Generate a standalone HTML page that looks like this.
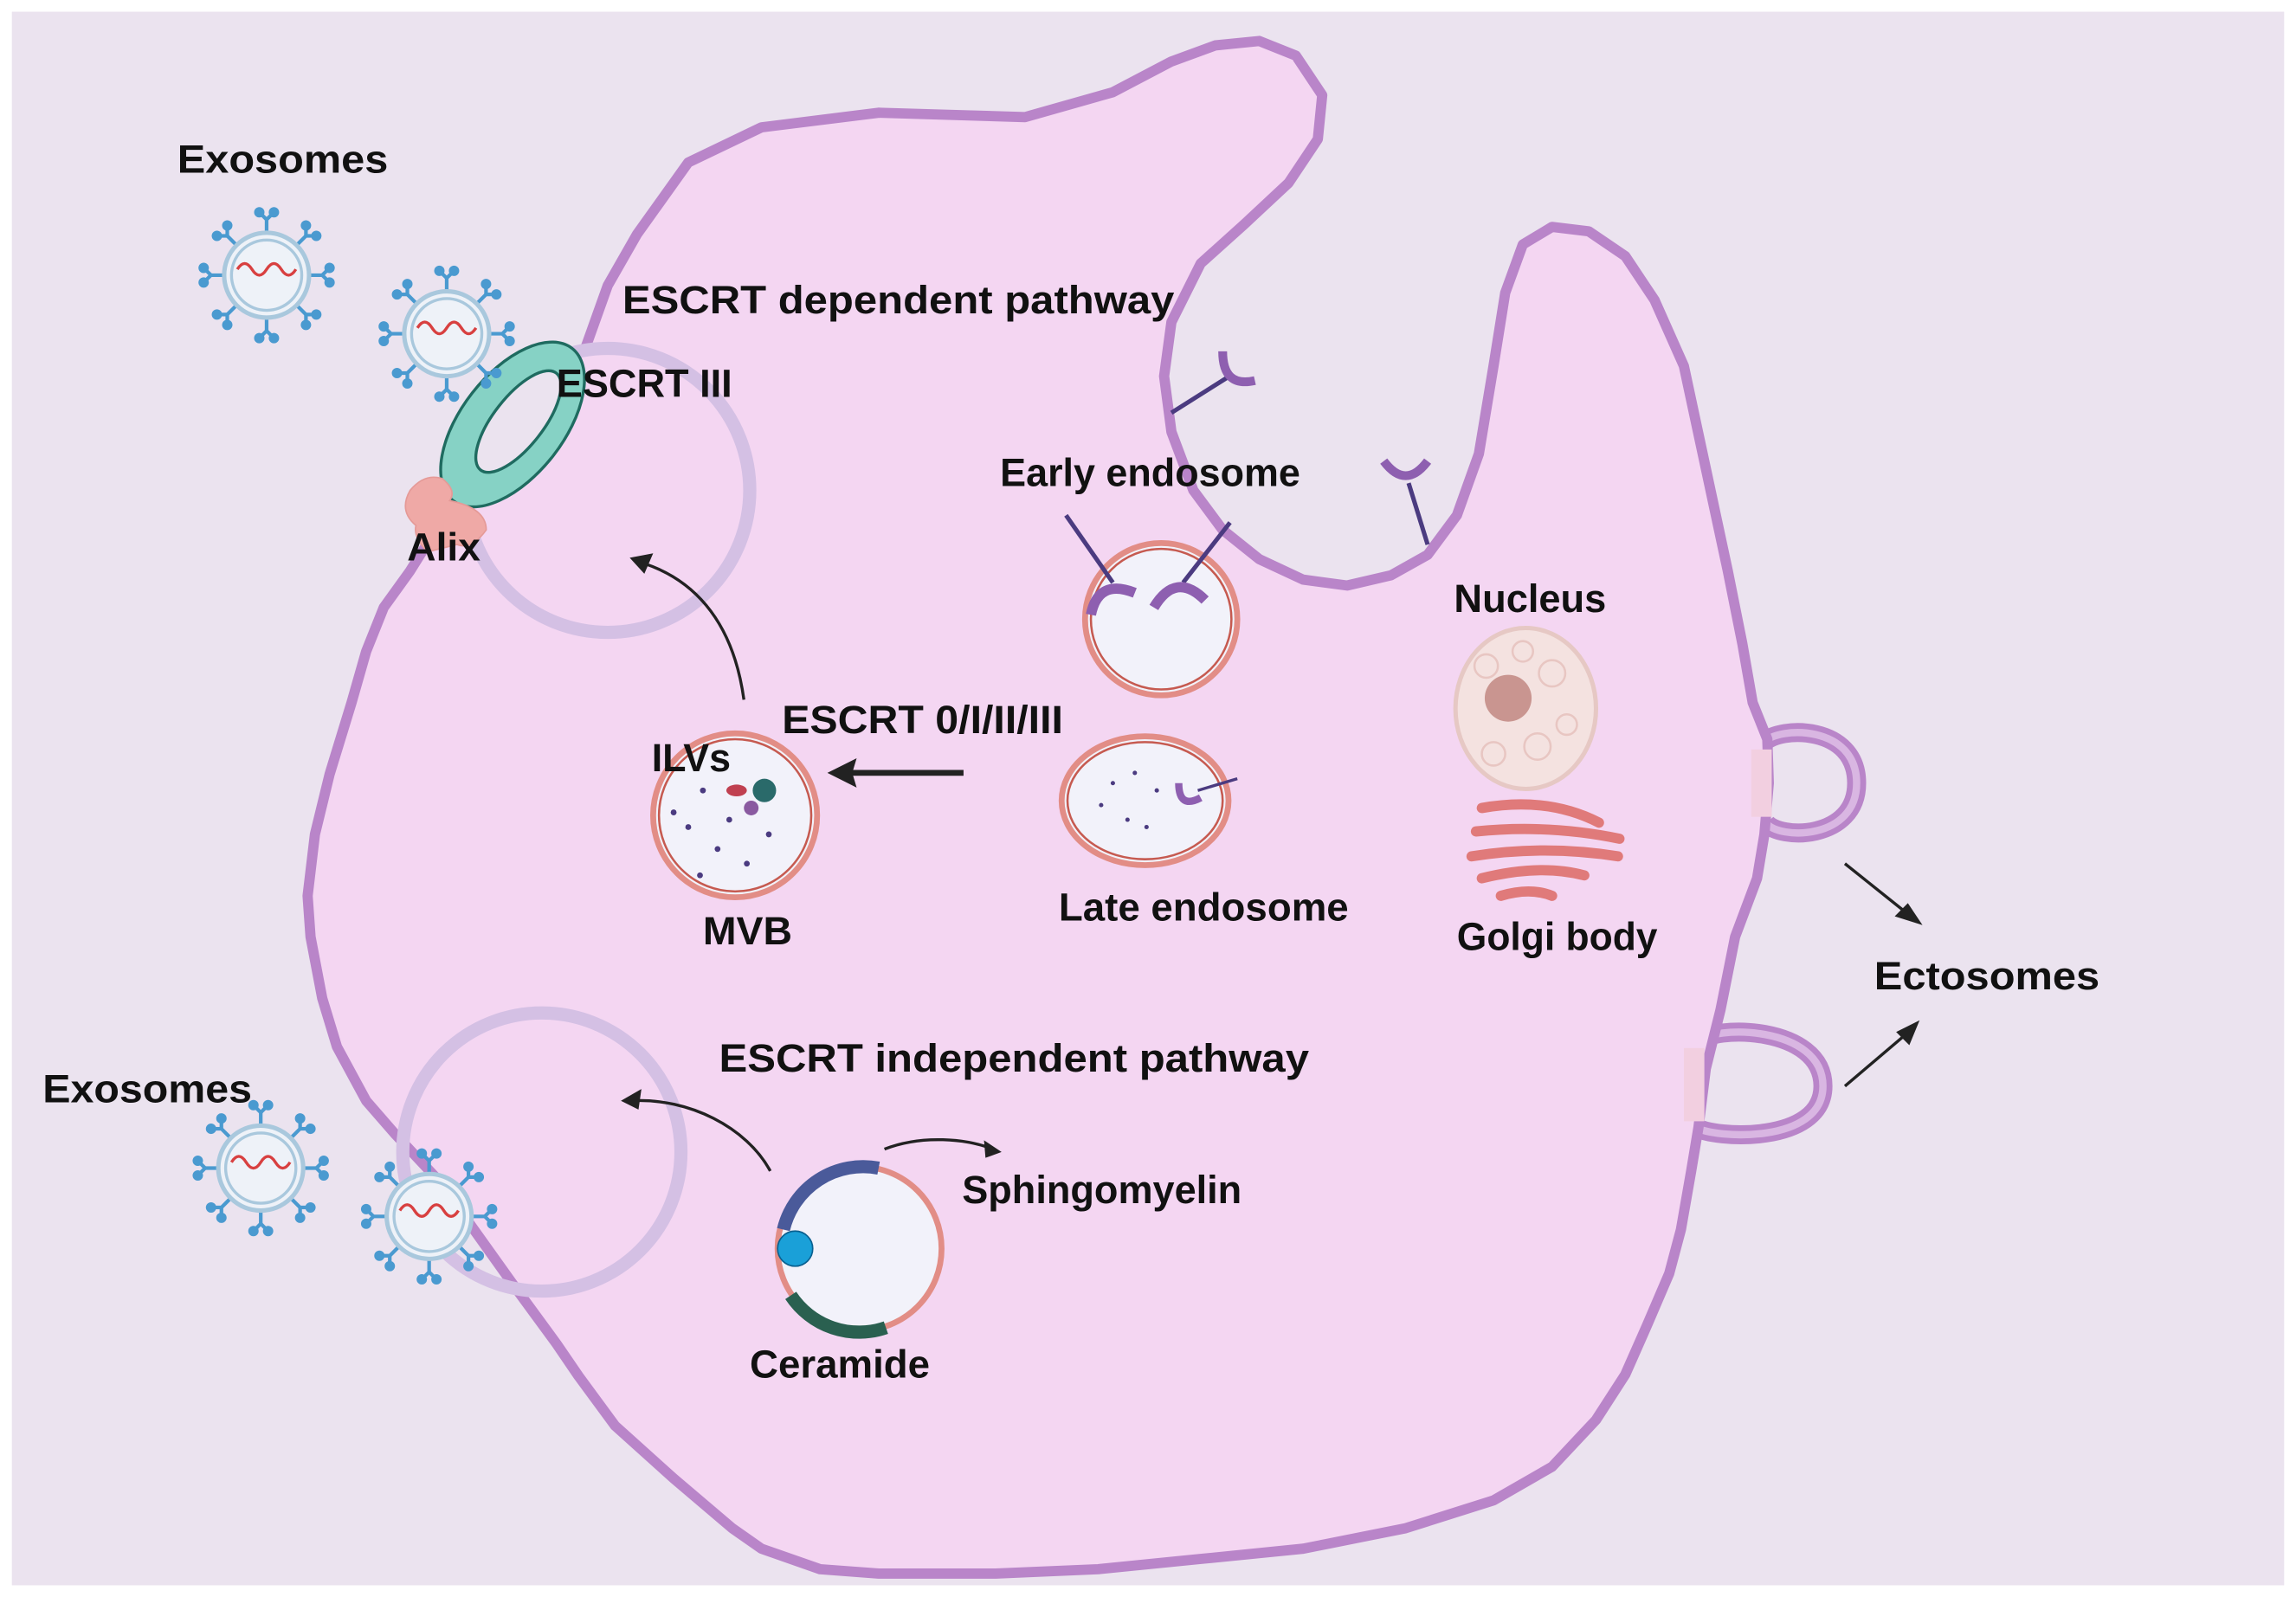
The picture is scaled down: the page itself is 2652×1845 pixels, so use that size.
<!DOCTYPE html>
<html><head><meta charset="utf-8"><style>
html,body{margin:0;padding:0;background:#fff}
svg{display:block}
text{font-family:"Liberation Sans",sans-serif;font-weight:bold;fill:#111}
</style></head><body>
<svg width="2652" height="1845" viewBox="0 0 1568 1091" xmlns="http://www.w3.org/2000/svg">
<defs>
<g id="exo">
 <g stroke="#4a9ad0" stroke-width="2.5" fill="#4a9ad0">
  <g id="sp"><line x1="0" y1="-28" x2="0" y2="-38"/><line x1="0" y1="-38" x2="-5" y2="-43"/><line x1="0" y1="-38" x2="5" y2="-43"/><circle cx="-5" cy="-43" r="2.3"/><circle cx="5" cy="-43" r="2.3"/></g>
  <use href="#sp" transform="rotate(45)"/><use href="#sp" transform="rotate(90)"/><use href="#sp" transform="rotate(135)"/>
  <use href="#sp" transform="rotate(180)"/><use href="#sp" transform="rotate(225)"/><use href="#sp" transform="rotate(270)"/><use href="#sp" transform="rotate(315)"/>
 </g>
 <circle r="29" fill="#eef2f8" stroke="#a9c8dd" stroke-width="3"/>
 <circle r="24" fill="none" stroke="#a9c8dd" stroke-width="2"/>
 <path d="M-20,-4 q5,-8 10,0 t10,0 t10,0 t10,0" fill="none" stroke="#d84040" stroke-width="2"/>
</g>
</defs>
<rect width="1568" height="1091" fill="#fff"/>
<rect x="8" y="8" width="1552" height="1075" fill="#ebe3ef"/>
<!-- ectosome buds (behind cell) -->
<path d="M1205,507 C1215,496 1268,495 1268,535 C1268,574 1215,574 1206,562" fill="none" stroke="#b985c9" stroke-width="13"/>
<path d="M1205,507 C1215,496 1268,495 1268,535 C1268,574 1215,574 1206,562" fill="none" stroke="#d9b6e2" stroke-width="5"/>
<path d="M1160,712 C1168,700 1245,700 1245,742 C1245,782 1170,778 1158,770" fill="none" stroke="#b985c9" stroke-width="13"/>
<path d="M1160,712 C1168,700 1245,700 1245,742 C1245,782 1170,778 1158,770" fill="none" stroke="#d9b6e2" stroke-width="5"/>
<!-- cell -->
<polygon points="400,237 415,195 435,160 470,111 520,87 600,77 700,80 760,63 800,42 830,31 860,28 885,38 903,65 900,95 880,125 850,153 820,180 800,220 795,257 800,295 815,335 835,362 860,382 890,396 920,400 950,393 975,379 995,352 1010,310 1020,250 1028,200 1040,167 1060,155 1085,158 1110,175 1130,205 1150,250 1165,320 1180,390 1190,440 1197,480 1207,505 1208,535 1205,570 1200,600 1185,640 1175,690 1165,730 1160,770 1155,800 1148,840 1140,870 1125,905 1110,939 1090,970 1060,1002 1020,1025 960,1044 890,1058 820,1065 750,1072 680,1075 600,1075 560,1072 520,1058 500,1044 460,1010 420,974 395,940 380,918 350,877 320,835 300,807 270,775 250,752 230,715 220,682 212,640 210,612 215,570 225,529 240,480 250,445 262,415 280,390 305,350 330,313 365,270" fill="#f4d6f2" stroke="#b985c9" stroke-width="7" stroke-linejoin="round"/>
<rect x="1196" y="512" width="14" height="46" fill="#f2cfe0"/>
<rect x="1150" y="716" width="14" height="50" fill="#f2cfe0"/>
<!-- faint circles -->
<circle cx="415" cy="335" r="97" fill="none" stroke="#d4c0e4" stroke-width="9"/>
<circle cx="370" cy="787" r="95" fill="none" stroke="#d4c0e4" stroke-width="9"/>
<!-- ESCRT III ring -->
<ellipse cx="350" cy="290" rx="35" ry="66" transform="rotate(38 350 290)" fill="#86d2c5" stroke="#1f6b60" stroke-width="2"/>
<ellipse cx="354" cy="288" rx="17" ry="42" transform="rotate(38 354 288)" fill="#ebe3ef" stroke="#1f6b60" stroke-width="2"/>
<path d="M280,335 q10,-12 22,-8 q10,8 5,15 q25,5 25,20 q-10,14 -20,10 l-20,5 q-10,-10 -8,-18 q-12,-10 -4,-24z" fill="#efa9a6" stroke="#e59a97"/>
<!-- exosomes -->
<use href="#exo" transform="translate(182,188)"/>
<use href="#exo" transform="translate(305,228)"/>
<use href="#exo" transform="translate(178,798)"/>
<use href="#exo" transform="translate(293,831)"/>
<!-- receptors on membrane -->
<g stroke="#4b3b80" stroke-width="3" fill="none">
<line x1="800" y1="282" x2="838" y2="258"/><path d="M835,240 q0,25 22,20" stroke="#8e5fb0" stroke-width="6"/>
<line x1="975" y1="372" x2="962" y2="330"/><path d="M945,315 q15,20 30,0" stroke="#8e5fb0" stroke-width="6"/>
</g>
<!-- early endosome -->
<circle cx="793" cy="423" r="52" fill="#f2f2fa" stroke="#e28d86" stroke-width="4"/>
<circle cx="793" cy="423" r="48" fill="none" stroke="#c65a50" stroke-width="1.5"/>
<g stroke="#4b3b80" stroke-width="3" fill="none"><line x1="728" y1="352" x2="760" y2="398"/><line x1="840" y1="357" x2="808" y2="398"/></g>
<path d="M745,420 q5,-25 30,-15" fill="none" stroke="#8e5fb0" stroke-width="7"/>
<path d="M788,415 q15,-25 35,-5" fill="none" stroke="#8e5fb0" stroke-width="7"/>
<!-- late endosome -->
<ellipse cx="782" cy="547" rx="57" ry="44" fill="#f2f2fa" stroke="#e28d86" stroke-width="4"/>
<ellipse cx="782" cy="547" rx="53" ry="40" fill="none" stroke="#c65a50" stroke-width="1.5"/>
<path d="M805,535 q0,18 15,10" fill="none" stroke="#8e5fb0" stroke-width="5"/><line x1="818" y1="540" x2="845" y2="532" stroke="#4b3b80" stroke-width="2"/>
<g fill="#4b3b80"><circle cx="760" cy="535" r="1.5"/><circle cx="775" cy="528" r="1.5"/><circle cx="790" cy="540" r="1.5"/><circle cx="770" cy="560" r="1.5"/><circle cx="752" cy="550" r="1.5"/><circle cx="783" cy="565" r="1.5"/></g>
<!-- MVB -->
<circle cx="502" cy="557" r="56" fill="#f2f2fa" stroke="#e28d86" stroke-width="4"/>
<circle cx="502" cy="557" r="52" fill="none" stroke="#c65a50" stroke-width="1.5"/>
<g fill="#4b3b80"><circle cx="480" cy="540" r="2"/><circle cx="470" cy="565" r="2"/><circle cx="490" cy="580" r="2"/><circle cx="510" cy="590" r="2"/><circle cx="525" cy="570" r="2"/><circle cx="478" cy="598" r="2"/><circle cx="460" cy="555" r="2"/><circle cx="498" cy="560" r="2"/></g>
<circle cx="522" cy="540" r="8" fill="#2a6a6a"/><ellipse cx="503" cy="540" rx="7" ry="4" fill="#c04050"/><circle cx="513" cy="552" r="5" fill="#8a5aa0"/>
<!-- ceramide vesicle -->
<circle cx="587" cy="853" r="56" fill="#f2f2fa" stroke="#e28d86" stroke-width="4"/>
<path d="M535,840 A56,56 0 0 1 600,798" fill="none" stroke="#4a5a9a" stroke-width="9"/>
<path d="M540,885 A56,56 0 0 0 605,907" fill="none" stroke="#2a6050" stroke-width="9"/>
<circle cx="543" cy="853" r="12" fill="#1aa0d8" stroke="#0a6090"/>
<!-- nucleus & golgi -->
<ellipse cx="1042" cy="484" rx="48" ry="55" fill="#f4e2e0" stroke="#e6c8c4" stroke-width="3"/>
<g fill="none" stroke="#e8c6c2" stroke-width="1.5"><circle cx="1015" cy="455" r="8"/><circle cx="1060" cy="460" r="9"/><circle cx="1050" cy="510" r="9"/><circle cx="1020" cy="515" r="8"/><circle cx="1070" cy="495" r="7"/><circle cx="1040" cy="445" r="7"/></g>
<circle cx="1030" cy="477" r="16" fill="#c99590"/>
<g fill="none" stroke="#e07a7a" stroke-width="7" stroke-linecap="round">
<path d="M1012,552 q45,-8 80,10"/><path d="M1008,568 q50,-5 98,5"/><path d="M1005,585 q50,-8 100,0"/><path d="M1012,600 q40,-10 70,-2"/><path d="M1025,612 q20,-6 35,0"/>
</g>
<!-- arrows -->
<g fill="none" stroke="#222" stroke-width="2">
<path d="M508,478 C500,420 470,395 440,385"/>
<path d="M526,800 C510,770 470,750 432,752"/>
<path d="M604,785 C630,775 660,778 678,785"/>
<line x1="1260" y1="590" x2="1300" y2="622"/>
<line x1="1260" y1="742" x2="1300" y2="708"/>
</g>
<line x1="658" y1="528" x2="580" y2="528" stroke="#222" stroke-width="4"/>
<g fill="#222">
<polygon points="565,528 585,518 582,528 585,538"/>
<polygon points="430,381 446,378 440,392"/>
<polygon points="424,752 438,744 436,758"/>
<polygon points="684,787 672,779 673,791"/>
<polygon points="1313,632 1294,626 1303,617"/>
<polygon points="1311,697 1304,714 1295,705"/>
</g>
<!-- labels -->
<g font-size="27">
<text x="121" y="118" textLength="144" lengthAdjust="spacingAndGlyphs">Exosomes</text>
<text x="425" y="214" textLength="377" lengthAdjust="spacingAndGlyphs">ESCRT dependent pathway</text>
<text x="380" y="271" textLength="120" lengthAdjust="spacingAndGlyphs">ESCRT III</text>
<text x="278" y="383" textLength="50" lengthAdjust="spacingAndGlyphs">Alix</text>
<text x="683" y="332" textLength="205" lengthAdjust="spacingAndGlyphs">Early endosome</text>
<text x="993" y="418" textLength="104" lengthAdjust="spacingAndGlyphs">Nucleus</text>
<text x="534" y="501" textLength="192" lengthAdjust="spacingAndGlyphs">ESCRT 0/I/II/III</text>
<text x="445" y="527" textLength="54" lengthAdjust="spacingAndGlyphs">ILVs</text>
<text x="480" y="645" textLength="61" lengthAdjust="spacingAndGlyphs">MVB</text>
<text x="723" y="629" textLength="198" lengthAdjust="spacingAndGlyphs">Late endosome</text>
<text x="995" y="649" textLength="137" lengthAdjust="spacingAndGlyphs">Golgi body</text>
<text x="1280" y="676" textLength="154" lengthAdjust="spacingAndGlyphs">Ectosomes</text>
<text x="491" y="732" textLength="403" lengthAdjust="spacingAndGlyphs">ESCRT independent pathway</text>
<text x="29" y="753" textLength="143" lengthAdjust="spacingAndGlyphs">Exosomes</text>
<text x="657" y="822" textLength="191" lengthAdjust="spacingAndGlyphs">Sphingomyelin</text>
<text x="512" y="941" textLength="123" lengthAdjust="spacingAndGlyphs">Ceramide</text>
</g>
</svg>
</body></html>
